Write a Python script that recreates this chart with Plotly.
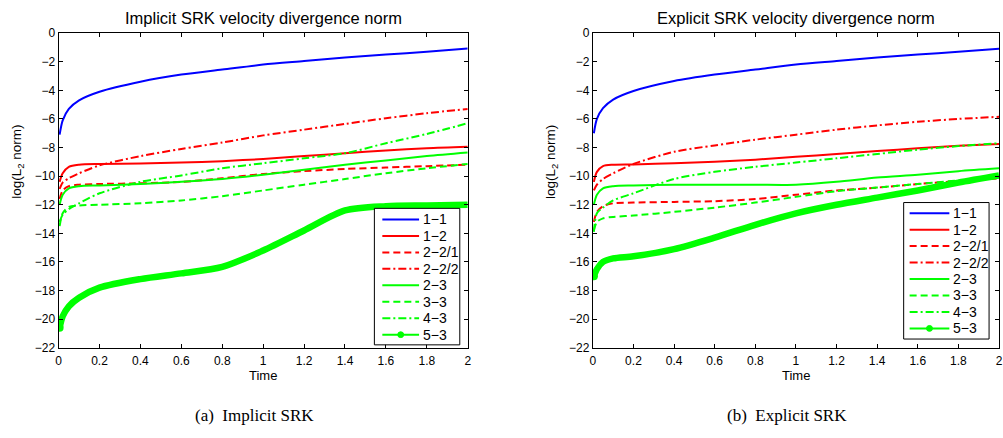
import plotly.graph_objects as go

W, H = 1003, 438

time = [0.005, 0.02, 0.05, 0.1, 0.2, 0.4, 0.6, 0.8, 1.0, 1.2, 1.4, 1.6, 1.8, 2.0]
labels = ["1\u22121", "1\u22122", "2\u22122/1", "2\u22122/2", "2\u22123", "3\u22123", "4\u22123", "5\u22123"]

# Implicit SRK
imp_1_1 = [-7.1, -6.1, -5.3, -4.7, -4.1, -3.4, -2.9, -2.55, -2.2, -1.95, -1.7, -1.5, -1.3, -1.08]
imp_1_2 = [-10.4, -9.8, -9.35, -9.2, -9.15, -9.12, -9.05, -8.95, -8.8, -8.6, -8.4, -8.2, -8.05, -7.95]
imp_2_2_1 = [-11.6, -11.0, -10.7, -10.6, -10.55, -10.5, -10.4, -10.15, -9.85, -9.65, -9.5, -9.4, -9.3, -9.2]
imp_2_2_2 = [-10.9, -10.45, -10.15, -9.8, -9.25, -8.6, -8.1, -7.65, -7.15, -6.75, -6.35, -5.95, -5.6, -5.3]
imp_2_3 = [-12.0, -11.3, -10.85, -10.7, -10.65, -10.55, -10.4, -10.2, -9.9, -9.55, -9.2, -8.9, -8.6, -8.35]
imp_3_3 = [-13.5, -12.6, -12.15, -12.05, -12.0, -11.9, -11.7, -11.4, -11.0, -10.6, -10.2, -9.8, -9.45, -9.15]
imp_4_3 = [-13.2, -12.7, -12.3, -11.9, -11.2, -10.4, -9.95, -9.45, -9.1, -8.75, -8.4, -7.7, -7.05, -6.3]
imp_5_3 = [-20.6, -19.8, -19.1, -18.5, -17.8, -17.2, -16.8, -16.35, -15.2, -13.8, -12.4, -12.1, -12.05, -12.0]

# Explicit SRK
exp_1_1 = [-7.0, -6.0, -5.25, -4.65, -4.05, -3.35, -2.9, -2.55, -2.2, -1.95, -1.7, -1.5, -1.3, -1.1]
exp_1_2 = [-10.4, -9.7, -9.3, -9.2, -9.18, -9.1, -9.0, -8.85, -8.65, -8.45, -8.25, -8.05, -7.88, -7.75]
exp_2_2_1 = [-13.2, -12.5, -12.1, -11.9, -11.85, -11.8, -11.75, -11.6, -11.3, -11.0, -10.8, -10.55, -10.35, -10.15]
exp_2_2_2 = [-11.0, -10.6, -10.2, -9.8, -9.15, -8.3, -7.85, -7.45, -7.1, -6.75, -6.45, -6.2, -6.0, -5.85]
exp_2_3 = [-12.0, -11.3, -10.85, -10.7, -10.65, -10.6, -10.6, -10.6, -10.6, -10.4, -10.1, -9.9, -9.65, -9.45]
exp_3_3 = [-13.8, -13.2, -12.95, -12.85, -12.75, -12.5, -12.2, -11.85, -11.45, -11.05, -10.8, -10.55, -10.3, -10.1]
exp_4_3 = [-13.9, -12.6, -12.2, -11.7, -11.2, -10.2, -9.7, -9.35, -9.05, -8.75, -8.45, -8.15, -7.9, -7.7]
exp_5_3 = [-17.0, -16.5, -16.0, -15.75, -15.6, -15.1, -14.3, -13.4, -12.6, -12.0, -11.5, -11.0, -10.45, -9.95]

x_ticks = [0, 0.2, 0.4, 0.6, 0.8, 1, 1.2, 1.4, 1.6, 1.8, 2]
y_ticks = list(range(0, -24, -2))

BLUE, RED, GREEN = "#0000ff", "#ff0000", "#00ff00"
DASH = "7px,4px"
DASHDOT = "8px,3px,2px,3px"
styles = [
    (BLUE, "solid"),
    (RED, "solid"),
    (RED, DASH),
    (RED, DASHDOT),
    (GREEN, "solid"),
    (GREEN, DASH),
    (GREEN, DASHDOT),
    (GREEN, "solid"),
]

SANS = "Liberation Sans, Arial, sans-serif"
fig = go.Figure()

panels = [
    ("x", "y", [imp_1_1, imp_1_2, imp_2_2_1, imp_2_2_2, imp_2_3, imp_3_3, imp_4_3], imp_5_3),
    ("x2", "y2", [exp_1_1, exp_1_2, exp_2_2_1, exp_2_2_2, exp_2_3, exp_3_3, exp_4_3], exp_5_3),
]

for xa, ya, series, thick in panels:
    for lab, ys, (col, dash) in zip(labels[:7], series, styles):
        fig.add_trace(go.Scatter(
            x=time, y=ys, mode="lines", name=lab, xaxis=xa, yaxis=ya, showlegend=False,
            line=dict(color=col, dash=dash, width=2, shape="spline", smoothing=0.8),
        ))
    fig.add_trace(go.Scatter(
        x=time, y=thick, mode="lines", name=labels[7], xaxis=xa, yaxis=ya, showlegend=False,
        line=dict(color=GREEN, width=6.5, shape="spline", smoothing=0.8),
    ))
    fig.add_trace(go.Scatter(
        x=time[:1], y=thick[:1], mode="markers", name=labels[7], xaxis=xa, yaxis=ya, showlegend=False,
        marker=dict(color=GREEN, size=8),
    ))

def px_x(p):
    return p / W

def px_y(p):
    return 1 - p / H

ydom = [px_y(352), px_y(27)]
axis_common = dict(
    showline=True, linecolor="black", linewidth=1, mirror="ticks",
    ticks="inside", ticklen=4, tickcolor="black", showgrid=False, zeroline=False,
    tickfont=dict(family=SANS, size=12, color="black"),
)

fig.update_layout(
    width=W, height=H,
    margin=dict(l=0, r=0, t=0, b=0),
    paper_bgcolor="white", plot_bgcolor="white",
    showlegend=False,
    xaxis=dict(domain=[px_x(56), px_x(468)], range=[0, 2], tickvals=x_ticks, anchor="y",
               ticklabelstandoff=2, **axis_common),
    yaxis=dict(domain=ydom, range=[-22, 0], tickvals=y_ticks, anchor="x", **axis_common),
    xaxis2=dict(domain=[px_x(594), 1.0], range=[0, 2], tickvals=x_ticks, anchor="y2",
                ticklabelstandoff=2, **axis_common),
    yaxis2=dict(domain=ydom, range=[-22, 0], tickvals=y_ticks, anchor="x2", **axis_common),
)

# legend boxes (drawn as shapes + text, matching the MATLAB legend layout)
shapes = []
ann = []
legends = [
    dict(box=(374, 208, 460, 349), x0=382, x1=419, tx=421, y0=219.5, dy=17.0),
    dict(box=(907, 202, 993, 343), x0=913, x1=953, tx=955, y0=213.0, dy=17.0),
]
for lg in legends:
    bx0, by0, bx1, by1 = lg["box"]
    shapes.append(dict(type="rect", xref="paper", yref="paper", layer="above",
                       x0=px_x(bx0), x1=px_x(bx1), y0=px_y(by0), y1=px_y(by1),
                       line=dict(color="black", width=1), fillcolor="white"))
    for i, (lab, (col, dash)) in enumerate(zip(labels, styles)):
        yy = lg["y0"] + i * lg["dy"]
        shapes.append(dict(type="line", xref="paper", yref="paper", layer="above",
                           x0=px_x(lg["x0"]), x1=px_x(lg["x1"]), y0=px_y(yy), y1=px_y(yy),
                           line=dict(color=col, width=2, dash=dash)))
        if i == 7:
            cx = (lg["x0"] + lg["x1"]) / 2
            shapes.append(dict(type="circle", xref="paper", yref="paper", layer="above",
                               x0=px_x(cx - 3), x1=px_x(cx + 3), y0=px_y(yy + 3), y1=px_y(yy - 3),
                               line=dict(color=col, width=1), fillcolor=col))
        ann.append(dict(x=px_x(lg["tx"]), y=px_y(yy), text=lab, xanchor="left", yanchor="middle",
                        font=dict(family=SANS, size=14, color="black")))

sans = dict(family=SANS, color="black")
serif = dict(family="Liberation Serif, Times New Roman, serif", color="black", size=17)
ann += [
    dict(x=px_x(262), y=px_y(11), text="Implicit SRK velocity divergence norm", font=dict(size=16.5, **sans)),
    dict(x=px_x(799), y=px_y(11), text="Explicit SRK velocity divergence norm", font=dict(size=16.5, **sans)),
    dict(x=px_x(262), y=px_y(381), text="Time", font=dict(size=13, **sans)),
    dict(x=px_x(799), y=px_y(381), text="Time", font=dict(size=13, **sans)),
    dict(x=px_x(15), y=px_y(160), text="log(L<sub>2</sub> norm)", textangle=-90, font=dict(size=13.5, **sans)),
    dict(x=px_x(553), y=px_y(160), text="log(L<sub>2</sub> norm)", textangle=-90, font=dict(size=13.5, **sans)),
    dict(x=px_x(253), y=px_y(422), text="(a)  Implicit SRK", font=serif),
    dict(x=px_x(790), y=px_y(422), text="(b)  Explicit SRK", font=serif),
]
for a in ann:
    a.setdefault("xanchor", "center")
    a.setdefault("yanchor", "middle")
    a.update(xref="paper", yref="paper", showarrow=False)
fig.update_layout(annotations=ann, shapes=shapes)

fig.write_html("out.html")
